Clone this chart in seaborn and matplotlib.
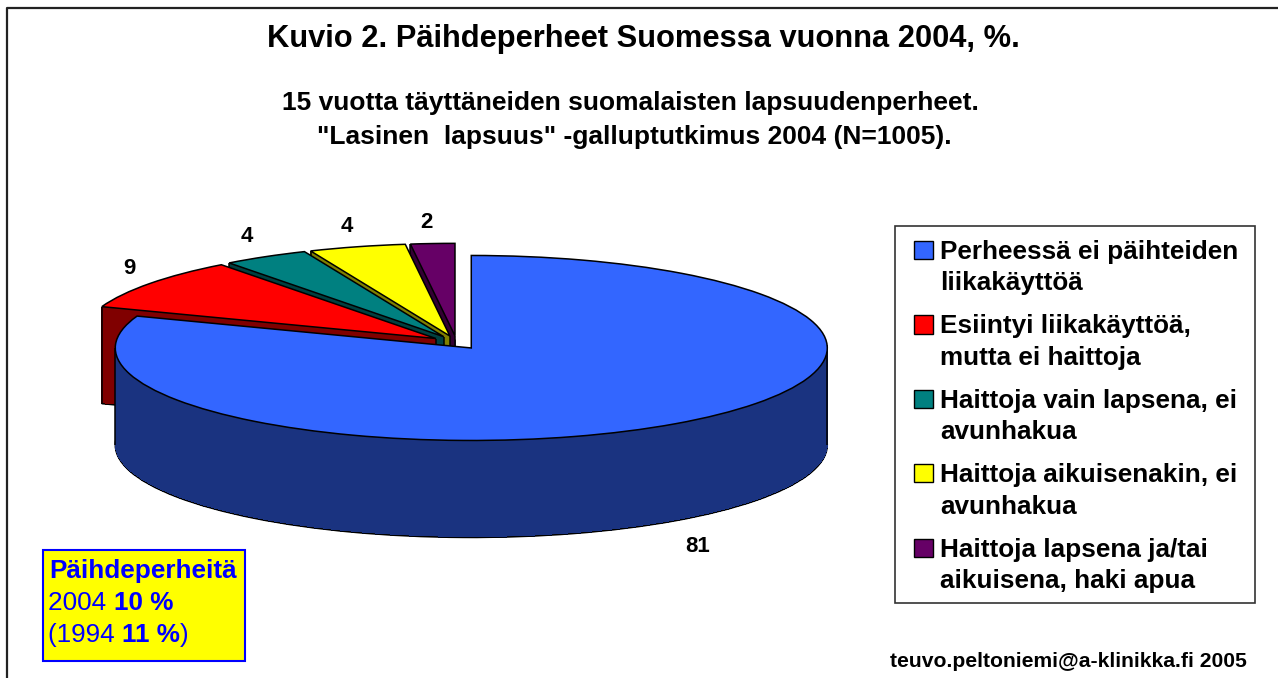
import matplotlib
matplotlib.use("Agg")
import matplotlib.pyplot as plt
import matplotlib.patches as mpatches
import numpy as np
import seaborn as sns

sns.set_theme(style="white")
plt.rcParams['font.family'] = ['Liberation Sans', 'DejaVu Sans']

# Data
labels = [
    "Perheessä ei päihteiden\nliikakäyttöä",
    "Esiintyi liikakäyttöä,\nmutta ei haittoja",
    "Haittoja vain lapsena, ei\navunhakua",
    "Haittoja aikuisenakin, ei\navunhakua",
    "Haittoja lapsena ja/tai\naikuisena, haki apua",
]
values = [80.6, 9.1, 3.9, 4.4, 2.0]
value_label_pos = [(698, 546), (129, 269), (247, 236), (347, 226), (426, 223)]

top_colors = ["#3366FF", "#FF0000", "#008080", "#FFFF00", "#660066"]
side_colors = ["#1A3380", "#800000", "#004040", "#808000", "#330033"]

W, H = 1278, 678
CX, CY = 456.6, 342.5   # pie centre in pixels
RX, RY = 356.0, 92.5    # ellipse radii in pixels
DEPTH = 97 / RY
EXPLODE = [0.072, 0.072, 0.072, 0.072, 0.072]
EDGE = 1.1

fig = plt.figure(figsize=(W / 100, H / 100), dpi=100, facecolor="white")
ax = fig.add_axes([0, 0, 1, 1])
ax_px = fig.add_axes([0, 0, 1, 1], zorder=5)
ax_px.set_xlim(0, W)
ax_px.set_ylim(H, 0)
ax_px.axis("off")
ax_px.patch.set_alpha(0)


def draw_pie(center_y, colors, linewidth):
    wedges, _ = ax.pie(values, explode=EXPLODE, colors=colors, startangle=90,
                       counterclock=False, center=(0, center_y),
                       wedgeprops=dict(linewidth=linewidth, edgecolor="black"))
    return wedges


# Slices are stacked back to front: purple first, blue last
for d in np.linspace(DEPTH, 0, 98)[:-1]:
    for i, w in enumerate(draw_pie(-d, side_colors, 0)):
        w.set_zorder((len(values) - i) * 10 + 1 - d / DEPTH)
        w.set_antialiased(False)
for i, w in enumerate(draw_pie(-DEPTH, side_colors, EDGE)):
    w.set_zorder((len(values) - i) * 10)
top = draw_pie(0, top_colors, EDGE)
for i, w in enumerate(top):
    z = (len(values) - i) * 10
    w.set_zorder(z + 3)
    # vertical wall edges
    x0, y0 = w.center
    if i == 0:
        xs = [x0 - 1, x0 + 1]
        ys = [y0, y0]
    else:
        # the slice's left corner and its tip, the right corner would show as a tick
        left = min(w.theta1, w.theta2, key=lambda a: np.cos(np.deg2rad(a)))
        xs = [x0 + np.cos(np.deg2rad(left)), x0]
        ys = [y0 + np.sin(np.deg2rad(left)), y0]
    ax.vlines(xs, np.array(ys) - DEPTH, ys, color="black", lw=EDGE, zorder=z + 2)

ax.set_aspect("auto")
ax.set_xlim(-CX / RX, (W - CX) / RX)
ax.set_ylim((CY - H) / RY, CY / RY)
ax.axis("off")

# Outer frame, only top and left are inside the picture
ax_px.plot([6.5, 6.5, W + 2], [H + 2, 8, 8], color="#222222", lw=1.6, clip_on=False)

# Titles
BOLD = dict(fontweight="bold", color="black", ha="center")
ax_px.text(643.5, 46.5, "Kuvio 2. Päihdeperheet Suomessa vuonna 2004, %.", fontsize=22.2, va="baseline", **BOLD)
ax_px.text(630.5, 110, "15 vuotta täyttäneiden suomalaisten lapsuudenperheet.", fontsize=19, va="baseline", **BOLD)
ax_px.text(634.5, 144, '"Lasinen  lapsuus" -galluptutkimus 2004 (N=1005).', fontsize=19, va="baseline", **BOLD)

# Value labels
for v, (x, y) in zip(values, value_label_pos):
    ax_px.text(x, y, str(int(round(v))), fontsize=16, va="center", **BOLD)

# Legend, frame drawn separately since its padding differs per side
ax_px.add_patch(mpatches.Rectangle((895, 226), 360, 377, facecolor="white",
                                   edgecolor="#333333", lw=1.2))
handles = [mpatches.Patch(facecolor=c, edgecolor="black", linewidth=1.0) for c in top_colors]
leg = ax_px.legend(handles, labels, loc="upper left", bbox_to_anchor=(914, 240),
                   bbox_transform=ax_px.transData, prop=dict(size=18.8, weight="bold"),
                   frameon=False, borderpad=0, handlelength=0.73, handleheight=0.69,
                   handletextpad=0.27, labelspacing=0.73, borderaxespad=0)
for t in leg.get_texts():
    t.set_linespacing(1.39)
    t.set_color("black")
for h in leg.legend_handles:
    h.set_y(h.get_y() + 13)

# Yellow note box
ax_px.add_patch(mpatches.Rectangle((43, 550), 202, 111, facecolor="#FFFF00",
                                   edgecolor="#0000FF", lw=1.5))
note_lines = [
    (49.5, 578, [("Päihdeperheitä", "bold")]),
    (48.5, 610, [("2004 ", "normal"), ("10 %", "bold")]),
    (48.5, 642, [("(1994 ", "normal"), ("11 %", "bold"), (")", "normal")]),
]
fig.canvas.draw()
renderer = fig.canvas.get_renderer()
inv = ax_px.transData.inverted()
for x, y, parts in note_lines:
    for txt, weight in parts:
        t = ax_px.text(x, y, txt, fontsize=18.8, fontweight=weight, color="#0000FF",
                       ha="left", va="baseline")
        ext = t.get_window_extent(renderer)
        x = inv.transform((ext.x1, ext.y0))[0]

# Footer
ax_px.text(890, 667, "teuvo.peltoniemi@a-klinikka.fi 2005", fontsize=15.2,
           fontweight="bold", color="black", ha="left", va="baseline")

fig.savefig("out.png", dpi=100, facecolor="white")
plt.close(fig)
